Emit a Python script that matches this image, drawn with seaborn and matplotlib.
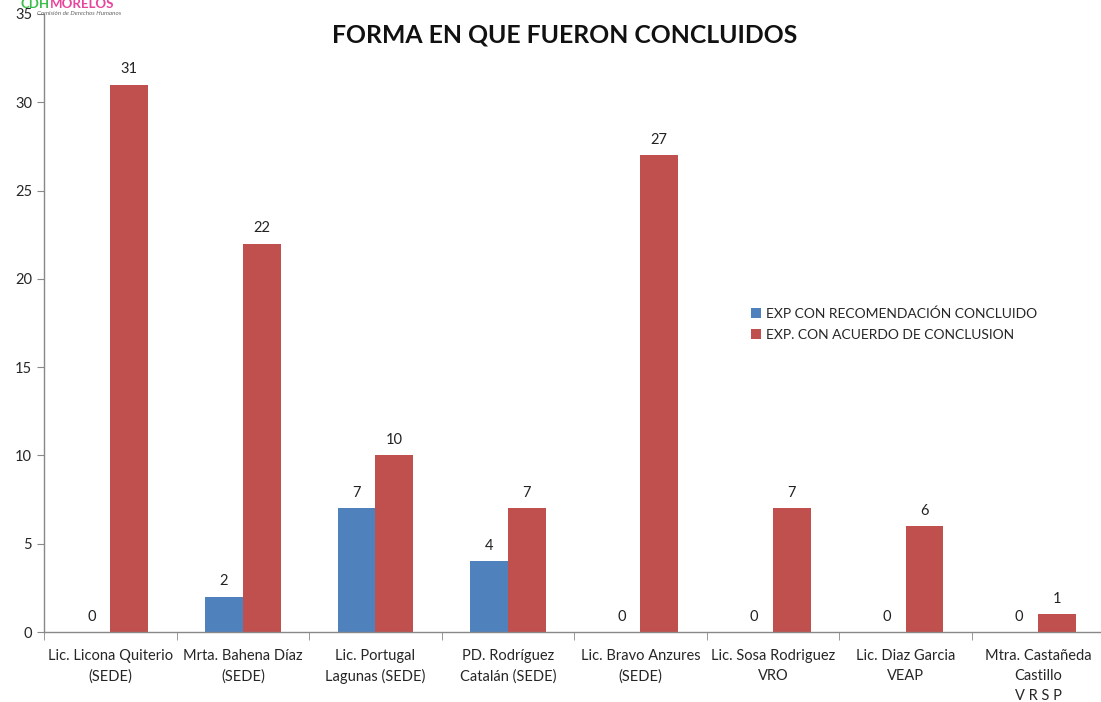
import pandas as pd
import seaborn as sns
import matplotlib.pyplot as plt
from matplotlib.ticker import FixedLocator

# Data
categorias = [
    "Lic. Licona Quiterio\n(SEDE)",
    "Mrta. Bahena Díaz\n(SEDE)",
    "Lic. Portugal\nLagunas (SEDE)",
    "PD. Rodríguez\nCatalán (SEDE)",
    "Lic. Bravo Anzures\n(SEDE)",
    "Lic. Sosa Rodriguez\nVRO",
    "Lic. Diaz Garcia\nVEAP",
    "Mtra. Castañeda\nCastillo\nV R S P",
]
serie_recomendacion = [0, 2, 7, 4, 0, 0, 0, 0]
serie_acuerdo = [31, 22, 10, 7, 27, 7, 6, 1]
nombres_series = ["EXP CON RECOMENDACIÓN CONCLUIDO", "EXP. CON ACUERDO DE CONCLUSION"]
colores = ["#4F81BD", "#C0504D"]

df = pd.DataFrame({
    "categoria": categorias * 2,
    "valor": serie_recomendacion + serie_acuerdo,
    "serie": [nombres_series[0]] * len(categorias) + [nombres_series[1]] * len(categorias),
})

sns.set_style("white")
plt.rcParams["font.family"] = ["Lato", "DejaVu Sans"]

fig = plt.figure(figsize=(11.01, 7.02), dpi=100)
ax = fig.add_axes([0.040, 0.0997, 0.963, 0.8804])

sns.barplot(data=df, x="categoria", y="valor", hue="serie", palette=colores,
            width=0.57, saturation=1, linewidth=0, ax=ax, legend=True)

for cont in ax.containers:
    ax.bar_label(cont, fmt="%d", padding=6, fontsize=10.5, color="#222222")

ax.set_ylim(0, 35)
ax.set_xlim(-0.5, len(categorias) - 0.5)
ax.set_yticks(range(0, 36, 5))
ax.set_xlabel("")
ax.set_ylabel("")

# tick marks at the category boundaries, labels at the centres
ax.tick_params(axis="x", which="major", length=0, pad=12, labelsize=10.5)
for lbl in ax.get_xticklabels():
    lbl.set_linespacing(1.55)
ax.xaxis.set_minor_locator(FixedLocator([i - 0.5 for i in range(len(categorias) + 1)]))
ax.tick_params(axis="x", which="minor", length=6, color="#888888", direction="out", bottom=True)
ax.tick_params(axis="y", length=5, color="#888888", direction="out", left=True, labelsize=10.5)

sns.despine(ax=ax, top=True, right=True)
for s in ("left", "bottom"):
    ax.spines[s].set_color("#888888")
    ax.spines[s].set_linewidth(1)

ax.legend(loc="upper left", bbox_to_anchor=(0.655, 0.545), frameon=False,
          fontsize=10, handlelength=0.7, handleheight=0.7, handletextpad=0.4,
          labelspacing=0.6)

fig.text(0.513, 0.95, "FORMA EN QUE FUERON CONCLUIDOS", ha="center", va="center",
         fontsize=17.8, fontweight="bold", color="#111111")

# logo at the top left
t1 = fig.text(0.019, 1.003, "CDH", color="#3DBE4B", fontsize=9.5, fontweight="bold", va="top")
fig.canvas.draw()
bb = t1.get_window_extent()
fig.text(bb.x1 / fig.bbox.width, 1.003, "MORELOS", color="#E8449A", fontsize=9.5,
         fontweight="bold", va="top")
fig.text(0.034, 0.985, "Comisión de Derechos Humanos", color="#666666", fontsize=4.5,
         style="italic", va="top")

fig.savefig("out.png", dpi=100)
